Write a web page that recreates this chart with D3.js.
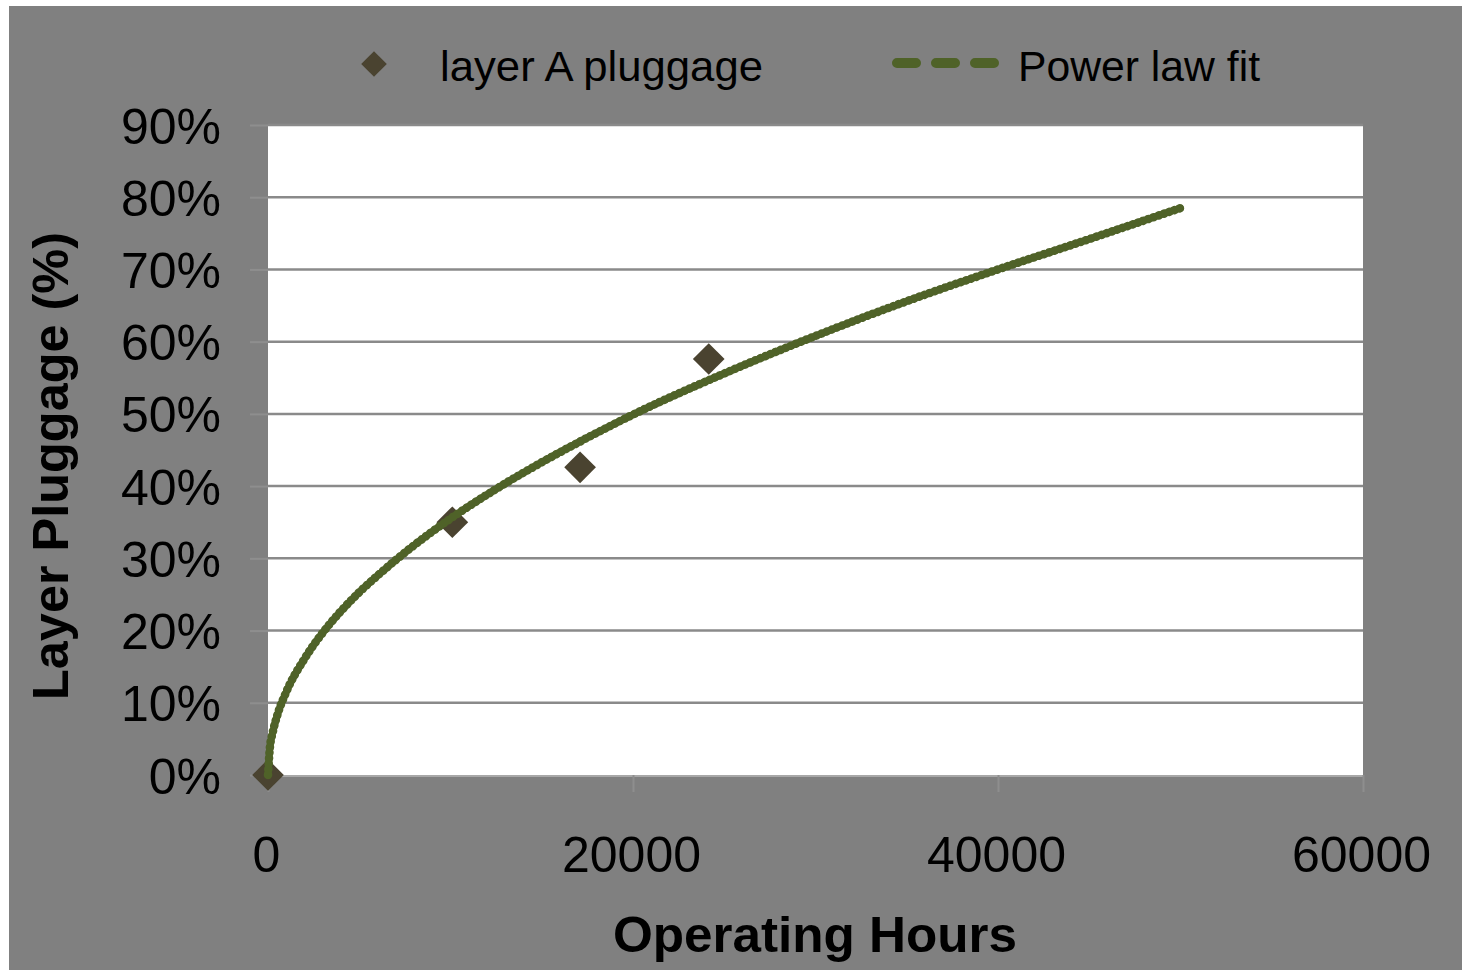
<!DOCTYPE html>
<html>
<head>
<meta charset="utf-8">
<script src="https://cdn.jsdelivr.net/npm/d3@7"></script>
<style>
  html, body { margin: 0; padding: 0; background: #ffffff; }
  svg { display: block; font-family: "Liberation Sans", Arial, sans-serif; }
</style>
</head>
<body>
<svg id="chart" width="1462" height="970"></svg>
<script>
// Measured pluggage of layer A
const obsHours = [0, 10100, 17100, 24150];
const obsPct = [0, 35.0, 42.6, 57.6];

// Power law trend line, sampled along its length
const fitHours = [0, 100, 250, 500, 1000, 2000, 3000, 4000, 5000, 6000, 8000, 10000,
                  12500, 15000, 17500, 20000, 25000, 30000, 35000, 40000, 45000, 50000];
const fitPct = [0, 3.7, 5.8, 8.2, 11.5, 16.1, 19.7, 22.7, 25.3, 27.6, 31.8, 35.5,
                39.6, 43.3, 46.7, 49.9, 55.6, 60.8, 65.6, 70.0, 74.2, 78.5];

const xTicks = [0, 20000, 40000, 60000];
const yTicks = [0, 10, 20, 30, 40, 50, 60, 70, 80, 90];

const seriesNames = ["layer A pluggage", "Power law fit"];
const xTitle = "Operating Hours";
const yTitle = "Layer Pluggage (%)";

const svg = d3.select("#chart");
const W = 1462, H = 970;
const plot = { left: 268, right: 1363, top: 125, bottom: 775 };

const markerColor = "#4a4330";
const fitColor = "#4f6228";
const frameColor = "#808080";

// outer frame
svg.append("rect").attr("x", 9).attr("y", 6).attr("width", W - 9).attr("height", H - 6)
  .attr("fill", frameColor);

const x = d3.scaleLinear().domain([0, 60000]).range([plot.left, plot.right]);
const y = d3.scaleLinear().domain([0, 90]).range([plot.bottom, plot.top]);

// plot area
svg.append("rect")
  .attr("x", plot.left).attr("y", plot.top)
  .attr("width", plot.right - plot.left).attr("height", plot.bottom - plot.top)
  .attr("fill", "#ffffff");

// horizontal gridlines
svg.append("g").selectAll("line").data(yTicks.filter(d => d > 0)).join("line")
  .attr("x1", plot.left).attr("x2", plot.right)
  .attr("y1", d => y(d)).attr("y2", d => y(d))
  .attr("stroke", "#8a8a8a").attr("stroke-width", 2.5);

// y axis ticks and labels
const yAxis = d3.axisLeft(y).tickValues(yTicks).tickSize(18).tickPadding(30)
  .tickFormat(d => d + "%");
const gy = svg.append("g").attr("transform", `translate(${plot.left},0)`).call(yAxis);
gy.select(".domain").remove();
gy.selectAll(".tick line").attr("stroke", "#8e8e8e").attr("stroke-width", 2);
gy.selectAll(".tick text").attr("fill", "#000").attr("font-size", 50)
  .attr("font-family", "'Liberation Sans', Arial, sans-serif").attr("dy", "0.36em")
  .attr("x", -47);

// x axis
const xAxis = d3.axisBottom(x).tickValues(xTicks).tickSize(17).tickPadding(44)
  .tickFormat(d3.format("d"));
const gx = svg.append("g").attr("transform", `translate(0,${plot.bottom})`).call(xAxis);
gx.select(".domain").attr("stroke", "#a8a8a8").attr("stroke-width", 2)
  .attr("d", `M${plot.left},1H${plot.right}`);
gx.selectAll(".tick line").attr("stroke", "#8e8e8e").attr("stroke-width", 2);
gx.selectAll(".tick text").attr("fill", "#000").attr("font-size", 50)
  .attr("font-family", "'Liberation Sans', Arial, sans-serif").attr("dy", "0.71em")
  .attr("x", -2);

// trend line: solid core with overlapping round dots for the beaded look
const fitData = fitHours.map((h, i) => [h, fitPct[i]]);
const line = d3.line().x(d => x(d[0])).y(d => y(d[1])).curve(d3.curveMonotoneX);

// markers
const diamond = d3.symbol().type(d3.symbolDiamond2);
svg.append("g").selectAll("path").data(obsHours.map((h, i) => [h, obsPct[i]])).join("path")
  .attr("d", diamond.size(640))
  .attr("transform", d => `translate(${x(d[0])},${y(d[1])})`)
  .attr("fill", markerColor);

svg.append("path").datum(fitData).attr("d", line)
  .attr("fill", "none").attr("stroke", fitColor).attr("stroke-width", 7)
  .attr("stroke-linecap", "round").attr("stroke-linejoin", "round");
svg.append("path").datum(fitData).attr("d", line)
  .attr("fill", "none").attr("stroke", fitColor).attr("stroke-width", 8.5)
  .attr("stroke-linecap", "round").attr("stroke-dasharray", "0.5 5");

// legend
const legend = svg.append("g");
legend.append("path").attr("d", diamond.size(420))
  .attr("transform", "translate(374,64)").attr("fill", markerColor);
legend.append("text").attr("x", 440).attr("y", 81).attr("font-size", 42)
  .attr("fill", "#000").attr("textLength", 323).attr("lengthAdjust", "spacingAndGlyphs")
  .text(seriesNames[0]);
legend.append("line").attr("x1", 897).attr("x2", 994).attr("y1", 63).attr("y2", 63)
  .attr("stroke", fitColor).attr("stroke-width", 10).attr("stroke-linecap", "round")
  .attr("stroke-dasharray", "19 20");
legend.append("text").attr("x", 1018).attr("y", 81).attr("font-size", 42)
  .attr("fill", "#000").attr("textLength", 242).attr("lengthAdjust", "spacingAndGlyphs")
  .text(seriesNames[1]);

// axis titles
svg.append("text").attr("x", 815).attr("y", 952).attr("text-anchor", "middle")
  .attr("font-size", 50).attr("font-weight", "bold").attr("fill", "#000")
  .attr("textLength", 404).attr("lengthAdjust", "spacingAndGlyphs").text(xTitle);
svg.append("text").attr("transform", "translate(68,466) rotate(-90)")
  .attr("text-anchor", "middle").attr("font-size", 50).attr("font-weight", "bold")
  .attr("fill", "#000").attr("textLength", 468).attr("lengthAdjust", "spacingAndGlyphs")
  .text(yTitle);
</script>
</body>
</html>
